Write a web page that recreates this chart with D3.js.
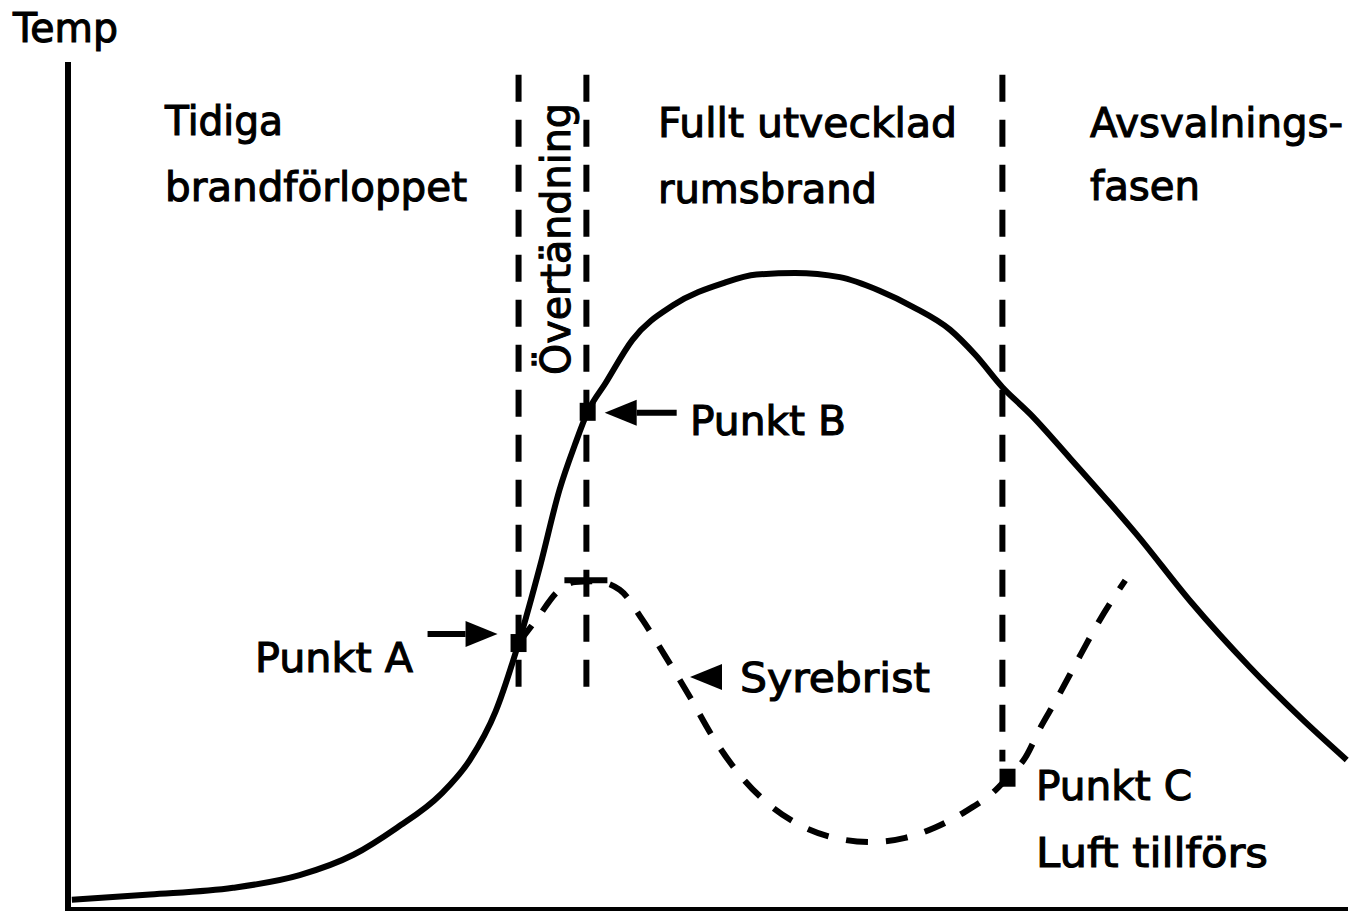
<!DOCTYPE html>
<html>
<head>
<meta charset="utf-8">
<script src="https://cdn.jsdelivr.net/npm/d3@7"></script>
<style>
  html, body { margin: 0; padding: 0; background: #fff; }
  svg { display: block; }
  text { font-family: "Comic Sans MS", "DejaVu Sans", sans-serif; fill: #000; stroke: #000; stroke-width: 1.1px; }
</style>
</head>
<body>
<svg id="chart" width="1349" height="913"></svg>
<script>
// ---------- DATA (time 0-100, temperature 0-100, arbitrary units) ----------
const solidTime = [0.3, 6.4, 12.9, 18.1, 22.3, 25.7, 29.1, 31.4, 33.4, 35.2, 36.9, 38.4, 39.6, 40.6, 42.0, 44.1, 47.3, 51.2, 53.8, 56.8, 60.3, 63.4, 66.0, 68.9, 70.9, 73.0, 75.2, 78.3, 81.4, 83.5, 87.7, 92.3, 96.5, 99.9];
const solidTemp = [1.1, 1.7, 2.5, 4.0, 6.4, 9.6, 13.5, 17.6, 23.3, 31.4, 40.6, 49.5, 54.8, 58.7, 62.1, 67.2, 71.3, 73.9, 74.9, 75.1, 74.6, 73.0, 71.1, 68.4, 65.4, 61.6, 58.4, 53.2, 47.9, 44.2, 36.3, 28.6, 22.3, 17.6];

const dashedTime = [35.2, 36.7, 38.2, 39.6, 41.2, 43.1, 44.9, 46.6, 48.6, 50.3, 52.5, 54.8, 57.2, 59.9, 62.7, 65.4, 67.7, 70.1, 72.3, 73.4, 74.8, 76.0, 77.1, 79.1, 80.6, 82.6];
const dashedTemp = [31.4, 34.4, 37.4, 38.6, 38.7, 37.7, 34.1, 30.0, 25.0, 20.5, 15.8, 12.3, 9.9, 8.4, 7.9, 8.4, 9.6, 11.5, 13.8, 15.5, 17.9, 21.5, 24.4, 30.0, 34.1, 38.8];

const boundaryTime = [35.2, 40.5, 73.0];
const boundaryTopTemp = [98.5, 98.5, 98.5];
const boundaryBottomTemp = [25.3, 26.1, 17.4];

const pointNames = ["Punkt A", "Punkt B", "Punkt C"];
const pointTime = [35.2, 40.6, 73.4];
const pointTemp = [31.4, 58.7, 15.5];

const oxygenPeakTime = 40.5;
const oxygenPeakTemp = 38.8;

const axisLabel = "Temp";
const phaseLabels = [["Tidiga", "brandförloppet"], ["Övertändning"], ["Fullt utvecklad", "rumsbrand"], ["Avsvalnings-", "fasen"]];
const noteLabels = ["Syrebrist", "Luft tillförs"];

// ---------- SCALES ----------
const svg = d3.select("#chart");
const x = d3.scaleLinear().domain([0, 100]).range([68, 1348]);
const y = d3.scaleLinear().domain([0, 100]).range([909, 62]);

// ---------- AXES ----------
const g = svg.append("g");
g.append("line").attr("x1", x(0)).attr("x2", x(0)).attr("y1", y(100)).attr("y2", y(0) + 2)
  .attr("stroke", "#000").attr("stroke-width", 6);
g.append("line").attr("x1", x(0) - 3).attr("x2", x(100)).attr("y1", y(0)).attr("y2", y(0))
  .attr("stroke", "#000").attr("stroke-width", 4);

// ---------- PHASE BOUNDARIES ----------
boundaryTime.forEach((t, i) => {
  g.append("line")
    .attr("x1", x(t)).attr("x2", x(t))
    .attr("y1", y(boundaryTopTemp[i])).attr("y2", y(boundaryBottomTemp[i]))
    .attr("stroke", "#000").attr("stroke-width", 6)
    .attr("stroke-dasharray", "27 18");
});

// ---------- CURVES ----------
const solidData = solidTime.map((t, i) => [t, solidTemp[i]]);
const dashedData = dashedTime.map((t, i) => [t, dashedTemp[i]]);
const line = d3.line().x(d => x(d[0])).y(d => y(d[1])).curve(d3.curveMonotoneX);

g.append("path").datum(dashedData).attr("d", line)
  .attr("fill", "none").attr("stroke", "#000").attr("stroke-width", 6)
  .attr("stroke-dasharray", "22 18");
g.append("path").datum(solidData).attr("d", line)
  .attr("fill", "none").attr("stroke", "#000").attr("stroke-width", 6)
  .attr("stroke-linejoin", "round");

// oxygen-limited peak tick
g.append("line")
  .attr("x1", x(oxygenPeakTime) - 22).attr("x2", x(oxygenPeakTime) + 21)
  .attr("y1", y(oxygenPeakTemp)).attr("y2", y(oxygenPeakTemp))
  .attr("stroke", "#000").attr("stroke-width", 6);

// ---------- POINT MARKERS ----------
pointTime.forEach((t, i) => {
  g.append("rect")
    .attr("x", x(t) - 8).attr("y", y(pointTemp[i]) - 9)
    .attr("width", 16).attr("height", 18)
    .attr("fill", "#000");
});

// ---------- ARROWS ----------
function arrow(tipX, tipY, dir, shaft) {
  // dir: +1 points right, -1 points left
  const headLen = 32, headHalf = 13;
  g.append("path")
    .attr("d", `M${tipX},${tipY} L${tipX - dir * headLen},${tipY - headHalf} L${tipX - dir * headLen},${tipY + headHalf} Z`)
    .attr("fill", "#000");
  if (shaft > 0) {
    g.append("line")
      .attr("x1", tipX - dir * headLen).attr("x2", tipX - dir * (headLen + shaft))
      .attr("y1", tipY).attr("y2", tipY)
      .attr("stroke", "#000").attr("stroke-width", 6);
  }
}
arrow(x(pointTime[0]) - 21, y(pointTemp[0]) - 9, 1, 38);
arrow(x(pointTime[1]) + 17, y(pointTemp[1]) + 1, -1, 40);
arrow(690, 677, -1, 0);

// ---------- TEXT ----------
function label(str, lx, ly, w, size) {
  return g.append("text").attr("x", lx).attr("y", ly)
    .attr("font-size", size || 40)
    .attr("textLength", w).attr("lengthAdjust", "spacingAndGlyphs")
    .text(str);
}
label(axisLabel, 13, 42, 105);
label(phaseLabels[0][0], 165, 135, 118);
label(phaseLabels[0][1], 165, 201, 302);
label(phaseLabels[2][0], 658, 137, 299);
label(phaseLabels[2][1], 658, 203, 219);
label(phaseLabels[3][0], 1090, 137, 253);
label(phaseLabels[3][1], 1090, 200, 110);

g.append("text")
  .attr("transform", "translate(570,375) rotate(-90)")
  .attr("font-size", 40)
  .attr("textLength", 272).attr("lengthAdjust", "spacingAndGlyphs")
  .text(phaseLabels[1][0]);

label(pointNames[0], 255, 672, 158);
label(pointNames[1], 690, 435, 156);
label(noteLabels[0], 740, 692, 190);
label(pointNames[2], 1036, 800, 156);
label(noteLabels[1], 1036, 867, 232);
</script>
</body>
</html>
